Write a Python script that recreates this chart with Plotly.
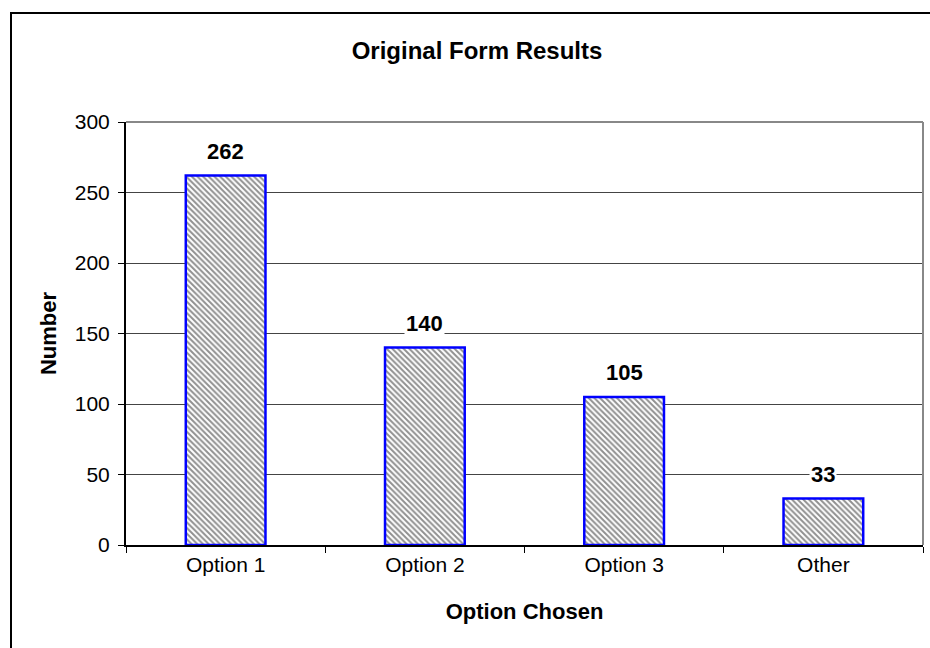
import plotly.graph_objects as go

categories = ["Option 1", "Option 2", "Option 3", "Other"]
values = [262, 140, 105, 33]
y_ticks = [0, 50, 100, 150, 200, 250, 300]

W, H = 930, 648
L, R, T, B = 126, 7, 122, 103
pw, ph = W - L - R, H - T - B

def px_x(p):
    return (p - L) / pw

def px_y(p):
    return (H - B - p) / ph

FAM = "Liberation Sans, Arial"

fig = go.Figure()
fig.add_trace(go.Bar(
    x=categories, y=values, width=0.4,
    marker=dict(
        color="white",
        line=dict(color="#0000FF", width=2.5),
        pattern=dict(shape="\\", fgcolor="#222222", bgcolor="white", size=4, solidity=0.5),
    ),
    hoverinfo="skip",
))

for c, v in zip(categories, values):
    fig.add_annotation(x=c, y=v, text=f"<b>{v}</b>", showarrow=False, yanchor="middle",
                       yshift=24, bgcolor="white", borderpad=1,
                       font=dict(family=FAM, size=22, color="black"))

font = dict(family=FAM, size=21, color="black")

fig.update_layout(
    width=W, height=H,
    margin=dict(l=L, r=R, t=T, b=B),
    paper_bgcolor="white", plot_bgcolor="white",
    showlegend=False,
    font=font,
    title=dict(text="<b>Original Form Results</b>", x=477 / W, xanchor="center",
               y=1 - 51 / H, yanchor="middle", font=dict(family=FAM, size=24, color="black")),
    xaxis=dict(
        showline=True, linecolor="black", linewidth=2, mirror=False,
        ticks="outside", ticklen=6, tickcolor="black", tickwidth=1, tickson="boundaries",
        showgrid=False, tickfont=font,
        title=dict(text="<b>Option Chosen</b>", font=dict(family=FAM, size=22, color="black"), standoff=28),
    ),
    yaxis=dict(
        range=[0, 300], tickvals=y_ticks, showline=True, linecolor="black", linewidth=2,
        ticks="outside", ticklen=6, tickcolor="black", tickwidth=1,
        showgrid=True, gridcolor="#444444", gridwidth=1, zeroline=False, tickfont=font,
        ticklabelstandoff=4,
        title=dict(text="<b>Number</b>", font=dict(family=FAM, size=22, color="black"), standoff=12),
    ),
    shapes=[
        dict(type="line", xref="paper", yref="paper", x0=0, x1=1, y0=1, y1=1,
             line=dict(color="#888888", width=2)),
        dict(type="line", xref="paper", yref="paper", x0=1, x1=1, y0=0, y1=1,
             line=dict(color="#888888", width=2)),
        dict(type="rect", xref="paper", yref="paper", x0=px_x(11), x1=px_x(940),
             y0=px_y(660), y1=px_y(13), line=dict(color="black", width=2), layer="below"),
    ],
)

fig.write_html("out.html")
